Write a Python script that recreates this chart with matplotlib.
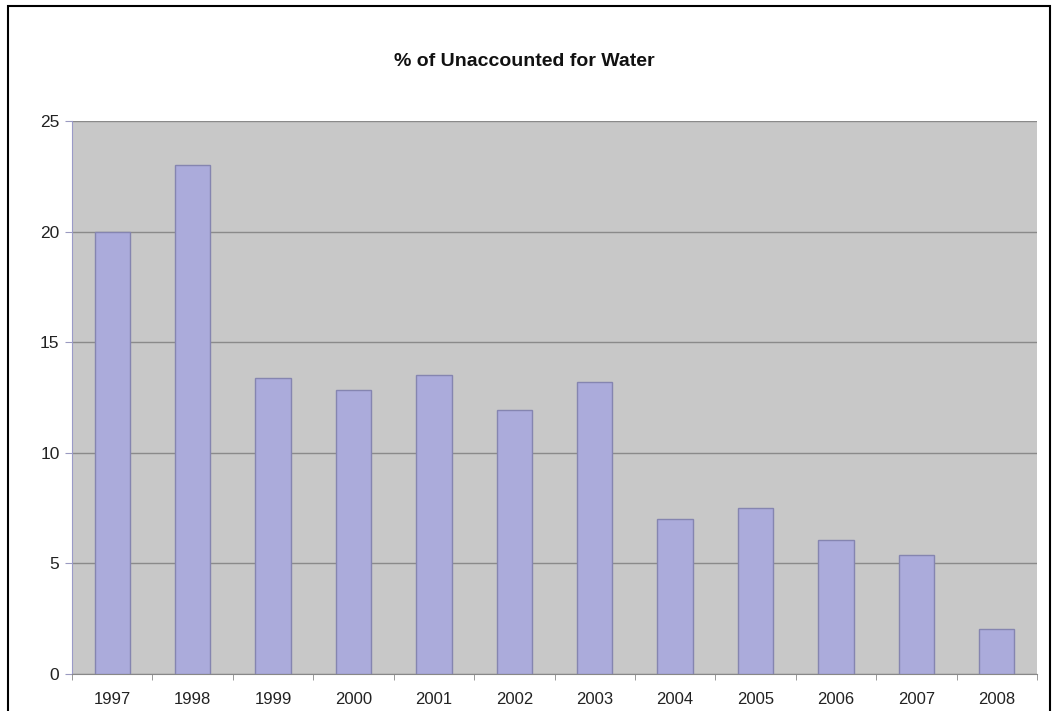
import matplotlib
matplotlib.use("Agg")
import matplotlib.pyplot as plt
from matplotlib.patches import Rectangle
from matplotlib.ticker import FixedLocator
import numpy as np

years = ["1997", "1998", "1999", "2000", "2001", "2002", "2003",
         "2004", "2005", "2006", "2007", "2008"]
values = [20.0, 23.0, 13.4, 12.85, 13.5, 11.93, 13.22, 7.0, 7.5, 6.05, 5.4, 2.05]
y_ticks = [0, 5, 10, 15, 20, 25]
title = "% of Unaccounted for Water"

plt.rcParams['font.family'] = ['Liberation Sans', 'DejaVu Sans']

fig = plt.figure(figsize=(10.54, 7.11), dpi=100)
fig.patch.set_facecolor("white")

# outer chart border
fig.patches.append(Rectangle((8/1054, -0.05), (1050-8)/1054, 1.05 - 6/711,
                             transform=fig.transFigure, fill=False,
                             edgecolor="black", linewidth=1.5, zorder=0))

ax = fig.add_axes([72/1054, 1-674/711, (1037-72)/1054, (674-121)/711])
ax.set_facecolor("#c8c8c8")
x = np.arange(len(years))
ax.bar(x, values, width=0.44, color="#ababdb", edgecolor="#8585b0",
       linewidth=1.0, zorder=3)

ax.set_xlim(-0.5, len(years) - 0.5)
ax.set_ylim(0, 25)
ax.set_yticks(y_ticks)
ax.set_yticklabels([str(t) for t in y_ticks], fontsize=12.5)
ax.yaxis.grid(True, color="#8a8a8a", linewidth=1.0, zorder=1)
ax.set_xticks(x)
ax.set_xticklabels(years, fontsize=12)
ax.xaxis.set_minor_locator(FixedLocator(np.arange(-0.5, len(years), 1.0)))
ax.tick_params(axis="x", which="major", length=0, pad=13, colors="#222222")
ax.tick_params(axis="x", which="minor", length=4, color="#888888", direction="out")
ax.tick_params(axis="y", length=5, pad=4, colors="#222222")
ax.tick_params(axis="y", color="#9a9ac0")

for s in ["top", "right"]:
    ax.spines[s].set_visible(False)
ax.spines["left"].set_color("#9a9ac8")
ax.spines["bottom"].set_color("#888888")

fig.text(524/1054, 1-62/711, title, ha="center", va="center",
         fontsize=14, fontweight="bold", color="#111111")

fig.savefig("out.png", dpi=100)
